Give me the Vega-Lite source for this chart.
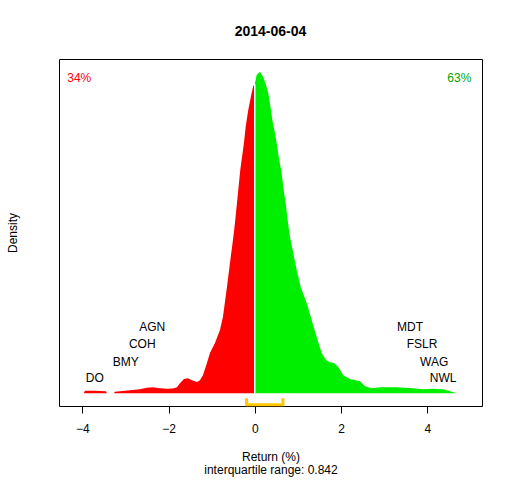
{
  "$schema": "https://vega.github.io/schema/vega-lite/v6.json",
  "width": 423,
  "height": 347,
  "autosize": "none",
  "padding": {"left": 59, "top": 59, "right": 30, "bottom": 74},
  "config": {
    "font": "Liberation Sans",
    "view": {"stroke": "black", "strokeWidth": 1}
  },
  "title": {
    "text": "2014-06-04",
    "fontSize": 14,
    "fontWeight": "bold",
    "color": "black",
    "anchor": "middle",
    "baseline": "alphabetic",
    "offset": 9
  },
  "datasets": {
    "density": [
      {"x": -3.963, "y": 0, "side": "neg"},
      {"x": -3.94, "y": 0.0043, "side": "neg"},
      {"x": -3.708, "y": 0.0047, "side": "neg"},
      {"x": -3.452, "y": 0.0037, "side": "neg"},
      {"x": -3.429, "y": 0, "side": "neg"},
      {"x": -3.267, "y": 0, "side": "neg"},
      {"x": -3.244, "y": 0.0028, "side": "neg"},
      {"x": -3.128, "y": 0.0037, "side": "neg"},
      {"x": -2.896, "y": 0.0056, "side": "neg"},
      {"x": -2.664, "y": 0.0075, "side": "neg"},
      {"x": -2.501, "y": 0.0103, "side": "neg"},
      {"x": -2.362, "y": 0.0112, "side": "neg"},
      {"x": -2.199, "y": 0.0093, "side": "neg"},
      {"x": -2.037, "y": 0.0084, "side": "neg"},
      {"x": -1.898, "y": 0.0086, "side": "neg"},
      {"x": -1.805, "y": 0.0112, "side": "neg"},
      {"x": -1.735, "y": 0.0187, "side": "neg"},
      {"x": -1.643, "y": 0.0262, "side": "neg"},
      {"x": -1.55, "y": 0.028, "side": "neg"},
      {"x": -1.457, "y": 0.0243, "side": "neg"},
      {"x": -1.341, "y": 0.0206, "side": "neg"},
      {"x": -1.271, "y": 0.0243, "side": "neg"},
      {"x": -1.202, "y": 0.0336, "side": "neg"},
      {"x": -1.109, "y": 0.0561, "side": "neg"},
      {"x": -1.039, "y": 0.0748, "side": "neg"},
      {"x": -0.923, "y": 0.0935, "side": "neg"},
      {"x": -0.807, "y": 0.1178, "side": "neg"},
      {"x": -0.738, "y": 0.142, "side": "neg"},
      {"x": -0.645, "y": 0.1981, "side": "neg"},
      {"x": -0.575, "y": 0.243, "side": "neg"},
      {"x": -0.506, "y": 0.286, "side": "neg"},
      {"x": -0.459, "y": 0.3177, "side": "neg"},
      {"x": -0.406, "y": 0.3607, "side": "neg"},
      {"x": -0.336, "y": 0.4168, "side": "neg"},
      {"x": -0.251, "y": 0.4673, "side": "neg"},
      {"x": -0.211, "y": 0.4972, "side": "neg"},
      {"x": -0.151, "y": 0.5289, "side": "neg"},
      {"x": -0.072, "y": 0.5607, "side": "neg"},
      {"x": -0.035, "y": 0.5738, "side": "neg"},
      {"x": 0, "y": 0.5775, "side": "neg"},
      {"x": 0, "y": 0.5775, "side": "pos"},
      {"x": 0.012, "y": 0.5813, "side": "pos"},
      {"x": 0.044, "y": 0.5943, "side": "pos"},
      {"x": 0.121, "y": 0.6, "side": "pos"},
      {"x": 0.197, "y": 0.5906, "side": "pos"},
      {"x": 0.26, "y": 0.5757, "side": "pos"},
      {"x": 0.313, "y": 0.5607, "side": "pos"},
      {"x": 0.369, "y": 0.5327, "side": "pos"},
      {"x": 0.415, "y": 0.5065, "side": "pos"},
      {"x": 0.469, "y": 0.4859, "side": "pos"},
      {"x": 0.522, "y": 0.4598, "side": "pos"},
      {"x": 0.568, "y": 0.4355, "side": "pos"},
      {"x": 0.624, "y": 0.4112, "side": "pos"},
      {"x": 0.661, "y": 0.385, "side": "pos"},
      {"x": 0.717, "y": 0.3551, "side": "pos"},
      {"x": 0.754, "y": 0.3289, "side": "pos"},
      {"x": 0.794, "y": 0.3046, "side": "pos"},
      {"x": 0.817, "y": 0.2916, "side": "pos"},
      {"x": 0.893, "y": 0.2617, "side": "pos"},
      {"x": 0.972, "y": 0.2299, "side": "pos"},
      {"x": 1.065, "y": 0.1981, "side": "pos"},
      {"x": 1.204, "y": 0.1682, "side": "pos"},
      {"x": 1.32, "y": 0.1364, "side": "pos"},
      {"x": 1.436, "y": 0.1047, "side": "pos"},
      {"x": 1.552, "y": 0.0748, "side": "pos"},
      {"x": 1.652, "y": 0.0617, "side": "pos"},
      {"x": 1.745, "y": 0.0579, "side": "pos"},
      {"x": 1.838, "y": 0.0561, "side": "pos"},
      {"x": 1.937, "y": 0.0486, "side": "pos"},
      {"x": 2.053, "y": 0.0336, "side": "pos"},
      {"x": 2.209, "y": 0.0262, "side": "pos"},
      {"x": 2.441, "y": 0.0224, "side": "pos"},
      {"x": 2.557, "y": 0.0131, "side": "pos"},
      {"x": 2.712, "y": 0.0093, "side": "pos"},
      {"x": 2.905, "y": 0.0112, "side": "pos"},
      {"x": 3.292, "y": 0.0112, "side": "pos"},
      {"x": 3.677, "y": 0.0093, "side": "pos"},
      {"x": 3.91, "y": 0.0075, "side": "pos"},
      {"x": 4.142, "y": 0.0084, "side": "pos"},
      {"x": 4.374, "y": 0.0075, "side": "pos"},
      {"x": 4.529, "y": 0.0037, "side": "pos"},
      {"x": 4.645, "y": 0.0009, "side": "pos"},
      {"x": 4.691, "y": 0, "side": "pos"}
    ],
    "stocks": [
      {"x": -3.71, "y": 0.0286, "label": "DO"},
      {"x": -2.99, "y": 0.0585, "label": "BMY"},
      {"x": -2.61, "y": 0.0916, "label": "COH"},
      {"x": -2.38, "y": 0.1228, "label": "AGN"},
      {"x": 3.6, "y": 0.1228, "label": "MDT"},
      {"x": 3.88, "y": 0.0916, "label": "FSLR"},
      {"x": 4.16, "y": 0.0585, "label": "WAG"},
      {"x": 4.37, "y": 0.0286, "label": "NWL"}
    ],
    "iqr": [
      {"x": -0.19, "y": -0.0093, "o": 1},
      {"x": -0.19, "y": -0.0215, "o": 2},
      {"x": 0.652, "y": -0.0215, "o": 3},
      {"x": 0.652, "y": -0.0093, "o": 4}
    ]
  },
  "layer": [
    {
      "data": {"name": "density"},
      "mark": {"type": "area", "interpolate": "linear"},
      "encoding": {
        "x": {
          "field": "x",
          "type": "quantitative",
          "scale": {"domain": [-4.54, 5.27], "nice": false, "zero": false},
          "axis": {
            "title": ["Return (%)", "interquartile range: 0.842"],
            "values": [-4, -2, 0, 2, 4],
            "grid": false,
            "domain": false,
            "tickColor": "black",
            "tickSize": 7,
            "labelFontSize": 12,
            "labelColor": "black",
            "labelPadding": 10,
            "titleFontSize": 12,
            "titleFontWeight": "normal",
            "titleColor": "black",
            "titleLineHeight": 13,
            "titlePadding": 17
          }
        },
        "y": {
          "field": "y",
          "type": "quantitative",
          "stack": null,
          "scale": {"domain": [-0.024, 0.624], "nice": false, "zero": false},
          "axis": {
            "title": "Density",
            "labels": false,
            "ticks": false,
            "domain": false,
            "grid": false,
            "minExtent": 0,
            "titleFontSize": 12,
            "titleFontWeight": "normal",
            "titleColor": "black",
            "titlePadding": 40
          }
        },
        "color": {
          "field": "side",
          "type": "nominal",
          "scale": {"domain": ["neg", "pos"], "range": ["#FF0000", "#00EE00"]},
          "legend": null
        }
      }
    },
    {
      "mark": {"type": "rule", "color": "#BEBEBE", "strokeWidth": 1},
      "encoding": {"y": {"datum": 0, "type": "quantitative"}}
    },
    {
      "data": {"values": [{"x": 0, "y": 0, "y2": 0.5775}]},
      "mark": {"type": "rule", "color": "white", "strokeWidth": 1.5},
      "encoding": {
        "x": {"field": "x", "type": "quantitative"},
        "y": {"field": "y", "type": "quantitative"},
        "y2": {"field": "y2"}
      }
    },
    {
      "data": {"name": "iqr"},
      "mark": {"type": "line", "color": "#FFC800", "strokeWidth": 3, "strokeCap": "butt"},
      "encoding": {
        "x": {"field": "x", "type": "quantitative"},
        "y": {"field": "y", "type": "quantitative"},
        "order": {"field": "o"}
      }
    },
    {
      "data": {"name": "stocks"},
      "mark": {"type": "text", "fontSize": 12, "color": "black", "align": "center", "baseline": "middle"},
      "encoding": {
        "x": {"field": "x", "type": "quantitative"},
        "y": {"field": "y", "type": "quantitative"},
        "text": {"field": "label"}
      }
    },
    {
      "data": {"values": [{"x": -4.07, "y": 0.589, "label": "34%"}]},
      "mark": {"type": "text", "fontSize": 12, "color": "#FF0000", "align": "center", "baseline": "middle"},
      "encoding": {
        "x": {"field": "x", "type": "quantitative"},
        "y": {"field": "y", "type": "quantitative"},
        "text": {"field": "label"}
      }
    },
    {
      "data": {"values": [{"x": 4.745, "y": 0.589, "label": "63%"}]},
      "mark": {"type": "text", "fontSize": 12, "color": "#00A800", "align": "center", "baseline": "middle"},
      "encoding": {
        "x": {"field": "x", "type": "quantitative"},
        "y": {"field": "y", "type": "quantitative"},
        "text": {"field": "label"}
      }
    }
  ]
}
